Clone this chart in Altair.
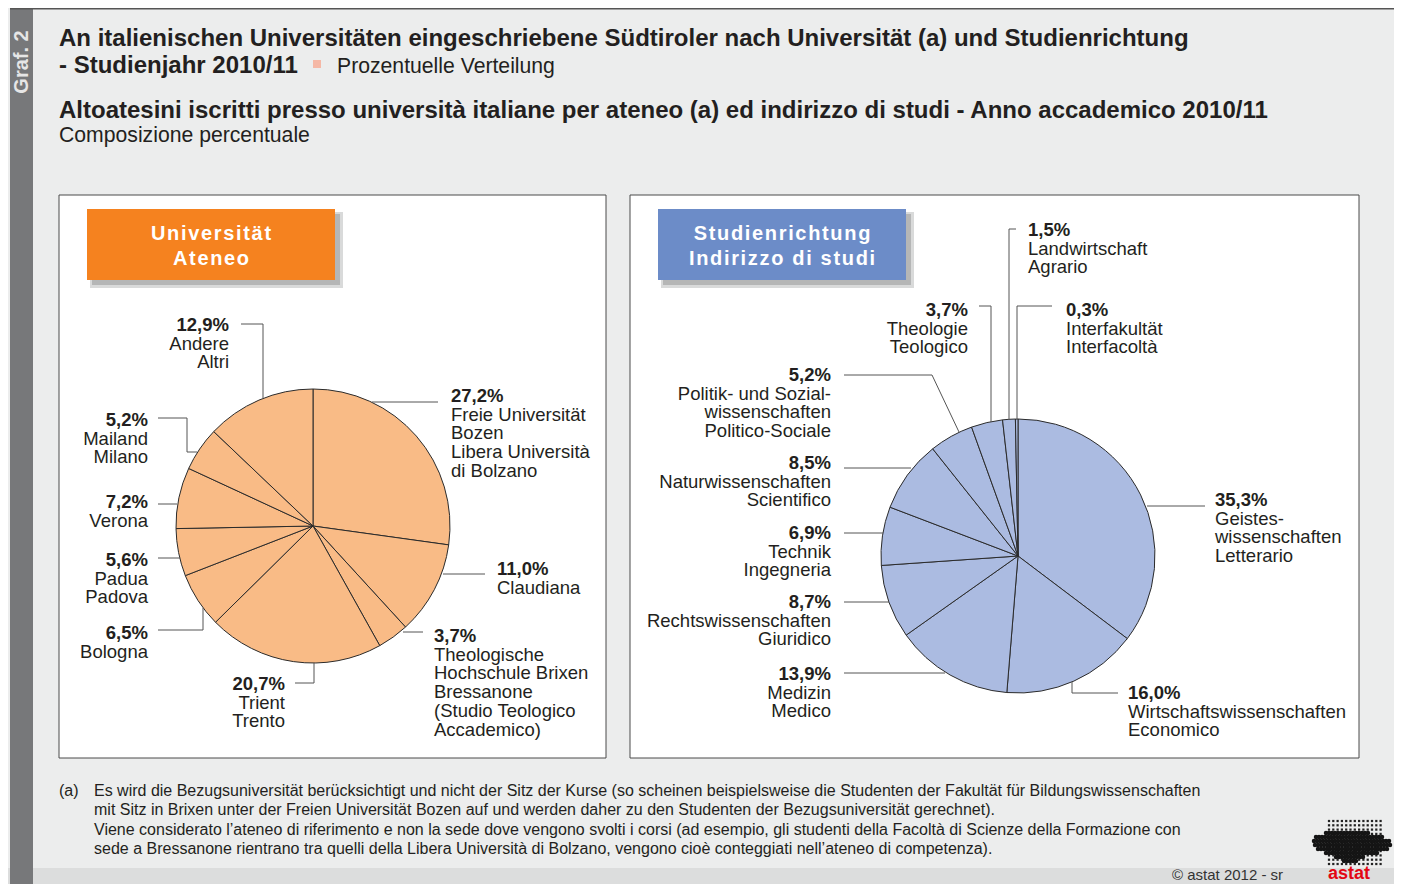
import altair as alt
import pandas as pd

# ---------------- data ----------------
uni_names = ["Freie Universität Bozen", "Claudiana", "Theologische Hochschule Brixen",
             "Trient", "Bologna", "Padua", "Verona", "Mailand", "Andere"]
uni_values = [27.2, 11.0, 3.7, 20.7, 6.5, 5.6, 7.2, 5.2, 12.9]

field_names = ["Geisteswissenschaften", "Wirtschaftswissenschaften", "Medizin",
               "Rechtswissenschaften", "Technik", "Naturwissenschaften",
               "Politik- und Sozialwissenschaften", "Theologie", "Landwirtschaft",
               "Interfakultät"]
field_values = [35.3, 16.0, 13.9, 8.7, 6.9, 8.5, 5.2, 3.7, 1.5, 0.3]

uni_label_lines = [
    ["27,2%", "Freie Universität", "Bozen", "Libera Università", "di Bolzano"],
    ["11,0%", "Claudiana"],
    ["3,7%", "Theologische", "Hochschule Brixen", "Bressanone", "(Studio Teologico", "Accademico)"],
    ["20,7%", "Trient", "Trento"],
    ["6,5%", "Bologna"],
    ["5,6%", "Padua", "Padova"],
    ["7,2%", "Verona"],
    ["5,2%", "Mailand", "Milano"],
    ["12,9%", "Andere", "Altri"],
]
field_label_lines = [
    ["35,3%", "Geistes-", "wissenschaften", "Letterario"],
    ["16,0%", "Wirtschaftswissenschaften", "Economico"],
    ["13,9%", "Medizin", "Medico"],
    ["8,7%", "Rechtswissenschaften", "Giuridico"],
    ["6,9%", "Technik", "Ingegneria"],
    ["8,5%", "Naturwissenschaften", "Scientifico"],
    ["5,2%", "Politik- und Sozial-", "wissenschaften", "Politico-Sociale"],
    ["3,7%", "Theologie", "Teologico"],
    ["1,5%", "Landwirtschaft", "Agrario"],
    ["0,3%", "Interfakultät", "Interfacoltà"],
]

title_lines = [
    "An italienischen Universitäten eingeschriebene Südtiroler nach Universität (a) und Studienrichtung",
    "- Studienjahr 2010/11",
    "Prozentuelle Verteilung",
    "Altoatesini iscritti presso università italiane per ateneo (a) ed indirizzo di studi - Anno accademico 2010/11",
    "Composizione percentuale",
]
header_lines = ["Universität", "Ateneo", "Studienrichtung", "Indirizzo di studi"]
footnote_lines = [
    "Es wird die Bezugsuniversität berücksichtigt und nicht der Sitz der Kurse (so scheinen beispielsweise die Studenten der Fakultät für Bildungswissenschaften",
    "mit Sitz in Brixen unter der Freien Universität Bozen auf und werden daher zu den Studenten der Bezugsuniversität gerechnet).",
    "Viene considerato l’ateneo di riferimento e non la sede dove vengono svolti i corsi (ad esempio, gli studenti della Facoltà di Scienze della Formazione con",
    "sede a Bressanone rientrano tra quelli della Libera Università di Bolzano, vengono cioè conteggiati nell’ateneo di competenza).",
]
source_text = "©  astat 2012 - sr"
brand_text = "astat"

# ---------------- layout (page pixel coordinates) ----------------
W, H = 1386, 876
X0, Y0 = 8, 8
FONT = "Liberation Sans"
DARK = "#231F20"
LH = 18.7
LBL = 18.5

xs = alt.Scale(domain=[X0, X0 + W], nice=False, zero=False)
ys = alt.Scale(domain=[Y0, Y0 + H], nice=False, zero=False, reverse=True)


def X(f):
    return alt.X(f"{f}:Q", scale=xs, axis=None)


def Y(f):
    return alt.Y(f"{f}:Q", scale=ys, axis=None)


def rects(rows, **kw):
    df = pd.DataFrame(rows, columns=["x", "y", "x2", "y2", "fill"])
    return alt.Chart(df).mark_rect(**kw).encode(
        x=X("x"), x2="x2:Q", y=Y("y"), y2="y2:Q",
        fill=alt.Fill("fill:N", scale=None))


def texts(rows, align="left", bold=False, size=LBL, color=DARK, **kw):
    df = pd.DataFrame(rows, columns=["x", "y", "text"])
    return alt.Chart(df).mark_text(
        align=align, baseline="middle", font=FONT, fontSize=size,
        fontWeight="bold" if bold else "normal", color=color, **kw
    ).encode(x=X("x"), y=Y("y"), text="text:N")


def spaced(s):
    return "\u200a".join(list(s))


# background pieces
bg = rects([
    (8, 8, 1394, 884, "#ECEDED"),
    (8, 868, 1394, 884, "#DCDDDD"),
    (10, 8, 33, 884, "#77787A"),
    (10, 8, 1394, 9.5, "#555555"),
    (313, 60, 321, 68, "#F5B8A6"),
])

panels = rects([
    (59, 195, 606, 758, "#FFFFFF"),
    (630, 195, 1359, 758, "#FFFFFF"),
], stroke="#4A4A4A", strokeWidth=1)

shadows = rects([
    (90, 212, 343, 288, "#C9CACA"),
    (661, 212, 914, 288, "#C9CACA"),
], opacity=0.7) + rects([
    (92, 214, 340, 285, "#A5A6A7"),
    (663, 214, 911, 285, "#A5A6A7"),
], opacity=0.7)

headers = rects([
    (87, 209, 335, 280, "#F5821F"),
    (658, 209, 906, 280, "#6C8CC8"),
])

# pies
uni_df = pd.DataFrame({"name": uni_names, "value": uni_values,
                       "k": range(len(uni_values)), "cx": 313, "cy": 526})
field_df = pd.DataFrame({"name": field_names, "value": field_values,
                         "k": range(len(field_values)), "cx": 1018, "cy": 556})


def pie(df, fill):
    return alt.Chart(df).mark_arc(
        outerRadius=137, fill=fill, stroke="#2B2B2B", strokeWidth=1
    ).encode(
        theta=alt.Theta("value:Q", stack=True),
        order=alt.Order("k:Q"),
        x=X("cx"), y=Y("cy"),
    )


pie_left = pie(uni_df, "#F9BB86")
pie_right = pie(field_df, "#ABBBE1")

# leader lines
seg = [
    (241, 324, 263, 324), (263, 324, 263, 398),
    (158, 418, 187, 418), (187, 418, 187, 452), (187, 452, 197, 452),
    (158, 504, 177, 504),
    (158, 558, 180, 558),
    (158, 630, 203, 630), (203, 630, 203, 608),
    (295, 683, 314, 683), (314, 683, 314, 663),
    (372, 402, 438, 402),
    (443, 574, 485, 574),
    (403, 632, 423, 632),
    (1009, 229, 1016, 229), (1009, 229, 1009, 420),
    (1017, 306, 1052, 306), (1017, 306, 1017, 420),
    (979, 306, 991, 306), (991, 306, 991, 422),
    (844, 375, 932, 375), (932, 375, 959, 432),
    (844, 468, 911, 468),
    (844, 533, 883, 533),
    (844, 602, 889, 602),
    (844, 673, 945, 673),
    (1072, 682, 1072, 693), (1072, 693, 1118, 693),
    (1147, 506, 1205, 506),
]
seg_df = pd.DataFrame(seg, columns=["x", "y", "x2", "y2"])
leaders = alt.Chart(seg_df).mark_rule(color="#555555", strokeWidth=1).encode(
    x=X("x"), y=Y("y"), x2="x2:Q", y2="y2:Q")

# label anchors: (x, first line y, align)
uni_anchor = [(451, 396, "left"), (497, 569, "left"), (434, 636, "left"),
              (285, 684, "right"), (148, 633, "right"), (148, 560, "right"),
              (148, 502, "right"), (148, 420, "right"), (229, 325, "right")]
field_anchor = [(1215, 500, "left"), (1128, 693, "left"), (831, 674, "right"),
                (831, 602, "right"), (831, 533, "right"), (831, 463, "right"),
                (831, 375, "right"), (968, 310, "right"), (1028, 230, "left"),
                (1066, 310, "left")]

groups = {("left", True): [], ("left", False): [], ("right", True): [], ("right", False): []}
for lines, (ax, ay, al) in list(zip(uni_label_lines, uni_anchor)) + list(zip(field_label_lines, field_anchor)):
    for i, ln in enumerate(lines):
        groups[(al, i == 0)].append((ax, ay + i * LH, ln))

label_layers = [texts(rows, align=al, bold=b) for (al, b), rows in groups.items()]

# titles
titles = (
    texts([(59, 39, title_lines[0]), (59, 66, title_lines[1]), (59, 111, title_lines[3])],
          bold=True, size=24)
    + texts([(337, 67, title_lines[2]), (59, 136, title_lines[4])], size=21.2)
)

header_text = texts(
    [(211, 234, spaced(header_lines[0])), (211, 259, spaced(header_lines[1])),
     (782, 234, spaced(header_lines[2])), (782, 259, spaced(header_lines[3]))],
    align="center", bold=True, size=20, color="#FFFFFF")

side = texts([(22, 62, "Graf. 2")], align="center", bold=True, size=20,
             color="#E6E6E6", angle=270)

foot = texts([(59, 791, "(a)")] + [(94, 791 + i * 19.4, t) for i, t in enumerate(footnote_lines)],
             size=16)

copyright_txt = texts([(1172, 875, source_text)], size=15, color="#333333")
astat_txt = texts([(1328, 874, brand_text)], bold=True, size=18, color="#E30613")

# logo (decoration): dotted grid with dark silhouette
logo_rows = []
yy = 821.0
while yy < 865:
    xx = 1329.0
    while xx < 1382:
        logo_rows.append((xx, yy))
        xx += 4.3
    yy += 4.3
dots = alt.Chart(pd.DataFrame(logo_rows, columns=["x", "y"])).mark_square(
    size=5, color="#222222", opacity=1).encode(x=X("x"), y=Y("y"))
blob_spans = [(833, 1326, 1368), (837, 1316, 1384), (841, 1314, 1390), (845, 1315, 1392),
              (849, 1318, 1388), (853, 1326, 1378), (857, 1336, 1364), (861, 1344, 1358)]
blob_pts = []
for by, bx1, bx2 in blob_spans:
    bx = bx1
    while bx <= bx2:
        blob_pts.append((bx, by))
        bx += 3
blob = alt.Chart(pd.DataFrame(blob_pts, columns=["x", "y"])).mark_circle(
    size=20, color="#151515", opacity=1).encode(x=X("x"), y=Y("y"))

chart = alt.layer(
    bg, panels, shadows, headers, pie_left, pie_right, leaders,
    *label_layers, titles, header_text, side, foot, dots, blob,
    copyright_txt, astat_txt,
).properties(
    width=W, height=H, padding=0,
    autosize=alt.AutoSizeParams(type="none"),
).configure_view(strokeWidth=0)

chart.save("out.html", embed_options={"renderer": "svg", "actions": False})
